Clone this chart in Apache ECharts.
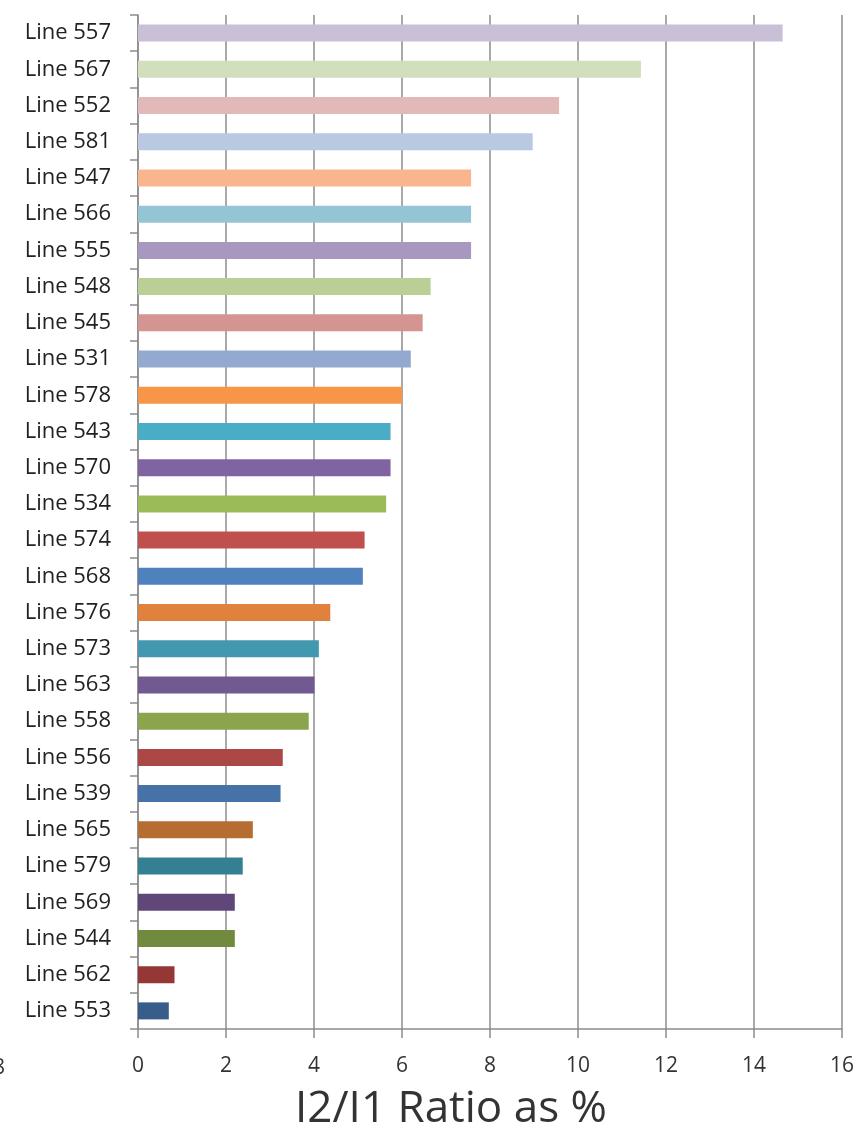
<!DOCTYPE html>
<html>
<head>
<meta charset="utf-8">
<script src="https://cdn.jsdelivr.net/npm/echarts@6/dist/echarts.min.js"></script>
<style>
  html, body { margin: 0; padding: 0; background: #fff; }
  #container { width: 862px; height: 1135px; }
</style>
</head>
<body>
<div id="container"></div>
<script>
// top to bottom, as in the picture
const lines = ['Line 557', 'Line 567', 'Line 552', 'Line 581', 'Line 547', 'Line 566', 'Line 555',
  'Line 548', 'Line 545', 'Line 531', 'Line 578', 'Line 543', 'Line 570', 'Line 534', 'Line 574',
  'Line 568', 'Line 576', 'Line 573', 'Line 563', 'Line 558', 'Line 556', 'Line 539', 'Line 565',
  'Line 579', 'Line 569', 'Line 544', 'Line 562', 'Line 553']

const ratios = [14.65, 11.43, 9.57, 8.97, 7.57, 7.57, 7.57,
  6.65, 6.47, 6.2, 6.0, 5.74, 5.74, 5.64, 5.15,
  5.11, 4.37, 4.11, 4.01, 3.88, 3.29, 3.24, 2.61,
  2.38, 2.2, 2.2, 0.83, 0.7]

const barColors = ['#C9BFD7', '#D1DFBC', '#E0B9B8', '#B9C9E1', '#F9B58E', '#93C5D5', '#A898BF',
  '#B9CF95', '#D49592', '#93A9D0', '#F79646', '#4BACC6', '#8064A2', '#9BBB59', '#C0504D',
  '#4F81BD', '#E0823D', '#4298AF', '#715992', '#8BA54F', '#AB4744', '#4672A8', '#B66D31',
  '#357F92', '#5F4879', '#728A3E', '#953735', '#385D8A']

const xTicks = { min: 0, max: 16, interval: 2 }
const axisTitle = 'I2/I1 Ratio as %'

const dom = document.getElementById('container')
const myChart = echarts.init(dom)

const gray = '#8C8C8C'
const font = '"Open Sans", sans-serif'

const option = {
  animation: false,
  backgroundColor: '#fff',
  grid: { left: 138, right: 20, top: 15, bottom: 106, containLabel: false },
  xAxis: {
    type: 'value',
    min: xTicks.min,
    max: xTicks.max,
    interval: xTicks.interval,
    axisLine: { show: true, lineStyle: { color: gray, width: 1.5 } },
    axisTick: { show: true, length: 9, lineStyle: { color: gray, width: 1.5 } },
    splitLine: { show: true, lineStyle: { color: gray, width: 1.5 } },
    axisLabel: { fontSize: 21, fontFamily: font, color: '#333', margin: 27 }
  },
  yAxis: {
    type: 'category',
    inverse: true,
    data: lines,
    axisLine: { show: true, lineStyle: { color: gray, width: 1.5 } },
    axisTick: { show: true, length: 8, lineStyle: { color: gray, width: 1.5 } },
    axisLabel: { fontSize: 22, fontFamily: font, color: '#222', margin: 27 }
  },
  graphic: [
    {
      type: 'text',
      style: {
        x: 451, y: 1109, text: axisTitle, textAlign: 'center', textVerticalAlign: 'middle',
        fontSize: 44, fontFamily: font, fill: '#333'
      }
    },
    {
      type: 'text',
      style: {
        x: -7, y: 1068, text: '8', textAlign: 'left', textVerticalAlign: 'middle',
        fontSize: 21, fontFamily: font, fill: '#333'
      }
    }
  ],
  series: [{
    type: 'bar',
    barWidth: '47%',
    data: ratios.map((v, i) => ({ value: v, itemStyle: { color: barColors[i] } }))
  }]
}

myChart.setOption(option)
</script>
</body>
</html>
